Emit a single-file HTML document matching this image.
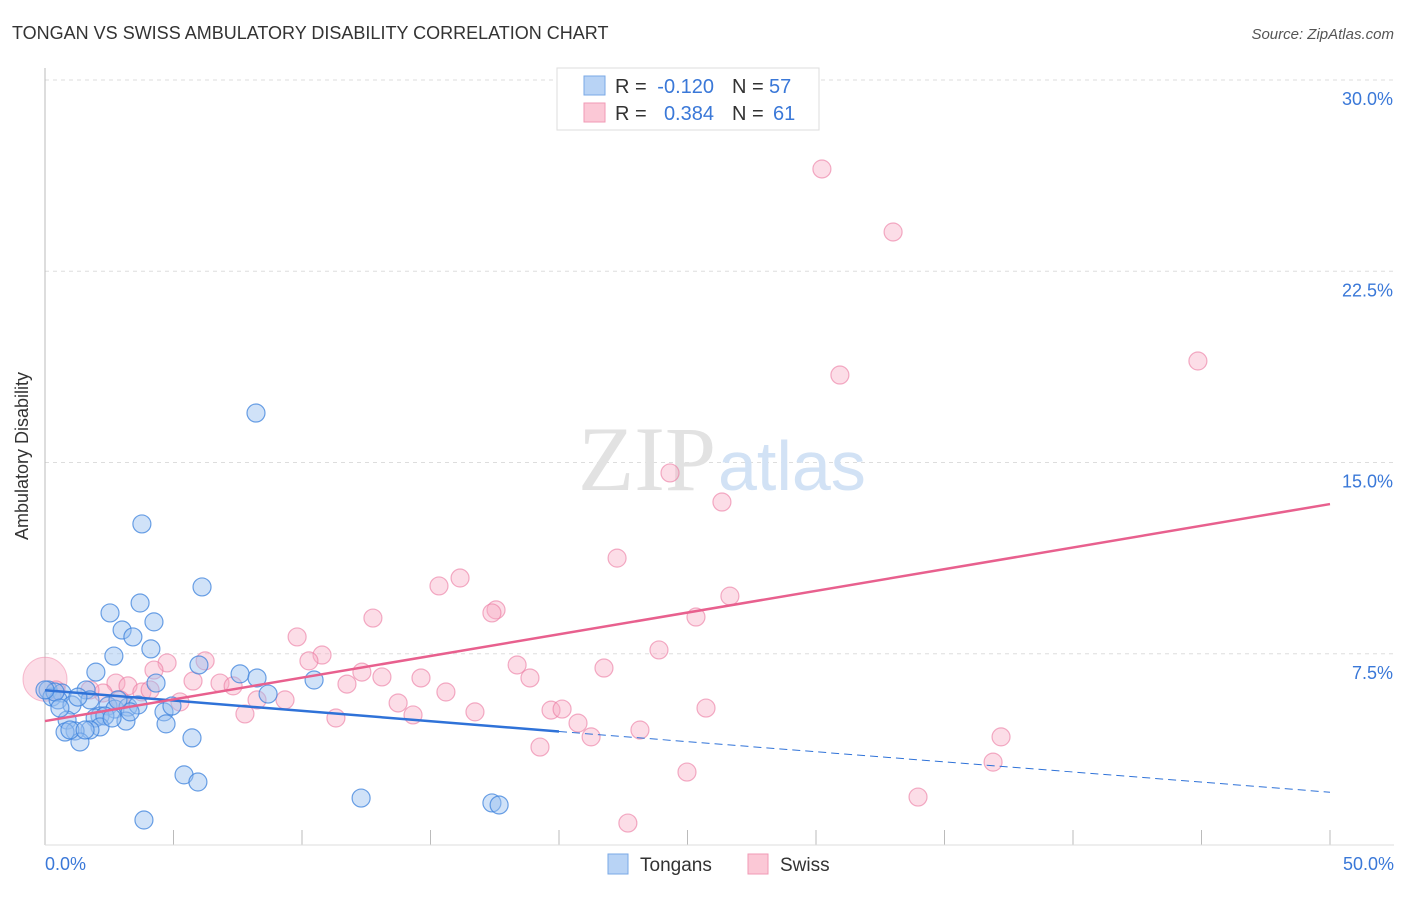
<!DOCTYPE html>
<html><head><meta charset="utf-8"><style>
body{margin:0;background:#fff;font-family:"Liberation Sans",sans-serif;}
</style></head><body>
<svg width="1406" height="892" viewBox="0 0 1406 892" xmlns="http://www.w3.org/2000/svg" font-family="Liberation Sans, sans-serif">
<text x="12" y="39" font-size="18" fill="#333">TONGAN VS SWISS AMBULATORY DISABILITY CORRELATION CHART</text>
<text x="1394" y="39" font-size="15" fill="#555" text-anchor="end" font-style="italic">Source: ZipAtlas.com</text>
<g id="grid"></g>
<text x="716" y="490" font-size="92" fill="#e2e2e2" text-anchor="end" font-family="Liberation Serif, serif">ZIP</text>
<text x="718" y="490" font-size="70" fill="#d2e2f5">atlas</text>
<line x1="45" y1="68" x2="45" y2="845" stroke="#bbb"/>
<line x1="45" y1="845" x2="1394" y2="845" stroke="#ddd"/>
<text x="28" y="456" font-size="18" fill="#333" text-anchor="middle" transform="rotate(-90 28 456)">Ambulatory Disability</text>
<text x="45" y="870" font-size="18" fill="#3a78d8">0.0%</text>
<text x="1394" y="870" font-size="18" fill="#3a78d8" text-anchor="end">50.0%</text>
<g id="points"></g>
<g id="lines"></g>
<g>
<rect x="557" y="68" width="262" height="62" fill="#fff" stroke="#ddd"/>
<rect x="584" y="76" width="21" height="19" fill="#b8d3f5" stroke="#7aa8e6"/>
<rect x="584" y="103" width="21" height="19" fill="#fbc8d6" stroke="#f09ab5"/>
<text x="615" y="93" font-size="20" fill="#333">R =</text>
<text x="714" y="93" font-size="20" fill="#3a78d8" text-anchor="end">-0.120</text>
<text x="732" y="93" font-size="20" fill="#333">N =</text>
<text x="769" y="93" font-size="20" fill="#3a78d8">57</text>
<text x="615" y="120" font-size="20" fill="#333">R =</text>
<text x="714" y="120" font-size="20" fill="#3a78d8" text-anchor="end">0.384</text>
<text x="732" y="120" font-size="20" fill="#333">N =</text>
<text x="773" y="120" font-size="20" fill="#3a78d8">61</text>
</g>
<g><rect x="608" y="854" width="20" height="20" fill="#b8d3f5" stroke="#7aa8e6"/><text x="640" y="871" font-size="19" fill="#333">Tongans</text></g>
<g><rect x="748" y="854" width="20" height="20" fill="#fbc8d6" stroke="#f09ab5"/><text x="780" y="871" font-size="19" fill="#333">Swiss</text></g>
</svg>
<script>
const yTicks=[7.5,15,22.5,30];
const yTickLabels=["7.5%","15.0%","22.5%","30.0%"];
const xTicks=[5,10,15,20,25,30,35,40,45,50];
const tongansPx=[[256,413],[142,524],[202,587],[110,613],[140,603],[154,622],[122,630],[133,637],[151,649],[114,656],[96,672],[240,674],[257,678],[199,665],[314,680],[156,683],[268,694],[48,690],[52,697],[62,693],[58,700],[72,705],[86,690],[90,700],[108,706],[115,709],[128,707],[138,705],[100,716],[95,718],[105,716],[126,721],[67,720],[164,712],[166,724],[100,727],[90,730],[75,731],[65,732],[80,742],[192,738],[184,775],[198,782],[361,798],[492,803],[499,805],[144,820],[55,692],[45,690],[78,697],[60,708],[70,730],[85,730],[172,706],[130,712],[112,718],[118,700]];
const swissPx=[[822,169],[893,232],[1198,361],[840,375],[670,473],[722,502],[617,558],[460,578],[439,586],[496,610],[492,613],[373,618],[730,596],[696,617],[297,637],[322,655],[309,661],[167,663],[154,670],[205,661],[517,665],[604,668],[659,650],[362,672],[382,677],[347,684],[421,678],[530,678],[193,681],[220,683],[233,686],[116,683],[128,686],[142,692],[103,693],[257,700],[285,700],[180,702],[446,692],[398,703],[413,715],[475,712],[551,710],[562,709],[578,723],[591,737],[640,730],[706,708],[336,718],[245,714],[540,747],[1001,737],[993,762],[687,772],[918,797],[628,823],[56,690],[90,690],[150,690],[120,700]];
const tongansX=tongansPx.map(p=>+((p[0]-45)/25.7).toFixed(2));
const tongansY=tongansPx.map(p=>+((845-p[1])/25.5).toFixed(2));
const swissX=swissPx.map(p=>+((p[0]-45)/25.7).toFixed(2));
const swissY=swissPx.map(p=>+((845-p[1])/25.5).toFixed(2));
const tongansTrend=[[0,6.07],[20,4.45],[50,2.07]];
const swissTrend=[[0,4.86],[50,13.37]];
const NS="http://www.w3.org/2000/svg";
const X=v=>45+v*25.7, Y=v=>845-v*25.5;
function mk(t,a,p){const e=document.createElementNS(NS,t);for(const k in a)e.setAttribute(k,a[k]);p.appendChild(e);return e;}
const grid=document.getElementById('grid');
yTicks.forEach((t,i)=>{
 const l=mk('line',{x1:45,x2:1394,y1:Y(t),y2:Y(t),stroke:'#ddd','stroke-dasharray':'4,4'},grid);
 
 
 const tx=mk('text',{x:1393,y:Y(t)+25,'font-size':18,fill:'#3a78d8','text-anchor':'end'},grid);
 tx.textContent=yTickLabels[i];
 
 
});
xTicks.forEach(t=>{
 const l=mk('line',{x1:X(t),x2:X(t),y1:830,y2:845,stroke:'#bbb'},grid);
 
 
});
const pts=document.getElementById('points');
const big=mk('circle',{cx:X(0),cy:Y(6.5),r:22,fill:'rgba(248,170,195,0.4)',stroke:'rgba(240,130,165,0.5)'},pts);


swissX.forEach((x,i)=>{
 const c=mk('circle',{cx:X(x),cy:Y(swissY[i]),r:9,fill:'rgba(248,170,195,0.4)',stroke:'rgba(235,120,160,0.6)','stroke-width':1.2},pts);
 
 
});
tongansX.forEach((x,i)=>{
 const c=mk('circle',{cx:X(x),cy:Y(tongansY[i]),r:9,fill:'rgba(150,190,240,0.45)',stroke:'rgba(60,130,220,0.75)','stroke-width':1.2},pts);
 
 
});
const ln=document.getElementById('lines');
const a=mk('line',{x1:X(tongansTrend[0][0]),y1:Y(tongansTrend[0][1]),x2:X(tongansTrend[1][0]),y2:Y(tongansTrend[1][1]),stroke:'#2f72d8','stroke-width':2.5},ln);


const b=mk('line',{x1:X(tongansTrend[1][0]),y1:Y(tongansTrend[1][1]),x2:X(tongansTrend[2][0]),y2:Y(tongansTrend[2][1]),stroke:'#2f72d8','stroke-width':1,'stroke-dasharray':'8,5'},ln);


const s=mk('line',{x1:X(swissTrend[0][0]),y1:Y(swissTrend[0][1]),x2:X(swissTrend[1][0]),y2:Y(swissTrend[1][1]),stroke:'#e8608e','stroke-width':2.5},ln);


</script>
</body></html>
